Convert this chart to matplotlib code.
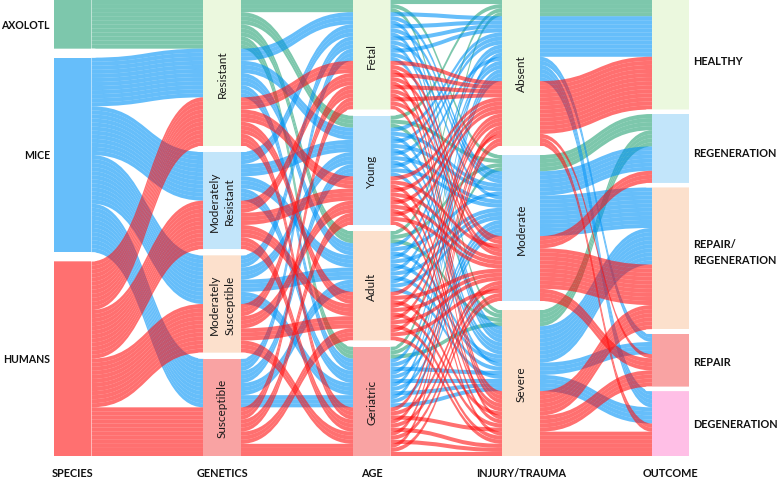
import numpy as np
import matplotlib.pyplot as plt
from matplotlib.path import Path
from matplotlib.patches import PathPatch, Rectangle, FancyBboxPatch

plt.rcParams['font.family'] = ['Lato', 'DejaVu Sans']

# ---- data ----
species = ["AXOLOTL", "MICE", "HUMANS"]
genetics = ["Resistant", "Moderately\nResistant", "Moderately\nSusceptible", "Susceptible"]
ages = ["Fetal", "Young", "Adult", "Geriatric"]
injuries = ["Absent", "Moderate", "Severe"]
outcomes = ["HEALTHY", "REGENERATION", "REPAIR/\nREGENERATION", "REPAIR", "DEGENERATION"]
axis_titles = ["SPECIES", "GENETICS", "AGE", "INJURY/TRAUMA", "OUTCOME"]

# genetic backgrounds present for each species
axolotl_genetics = [0]
mice_genetics = [0, 1, 2, 3]
humans_genetics = [0, 1, 2, 3]

# outcome per injury -> genetics -> age  (0 healthy, 1 regen, 2 repair/regen, 3 repair, 4 degen)
axolotl_out = [
    [[0, 0, 0, 0]],
    [[1, 1, 1, 1]],
    [[1, 1, 1, 1]],
]
mice_out = [
    [[0, 0, 0, 0], [0, 0, 0, 4], [0, 0, 3, 4], [0, 3, 4, 4]],
    [[1, 1, 1, 2], [1, 1, 2, 2], [1, 2, 2, 2], [2, 2, 2, 2]],
    [[2, 2, 2, 3], [2, 2, 2, 4], [2, 2, 3, 4], [2, 3, 4, 4]],
]
humans_out = [
    [[0, 0, 0, 0], [0, 0, 0, 0], [0, 0, 0, 4], [0, 0, 3, 4]],
    [[1, 1, 2, 2], [1, 2, 2, 2], [2, 2, 2, 3], [2, 2, 3, 3]],
    [[2, 2, 2, 3], [2, 2, 3, 4], [2, 3, 4, 4], [3, 4, 4, 4]],
]

# ---- styling ----
species_colors = ["#26a375", "#0093f7", "#ff1111"]
flow_alpha = 0.6
lgreen, lblue, peach, salmon, pink = "#ebf8de", "#c2e5fa", "#fce0cc", "#f9a3a3", "#ffbfe6"
strata_fills = [None,
                [lgreen, lblue, peach, salmon],
                [lgreen, lblue, peach, salmon],
                [lgreen, lblue, peach],
                [lgreen, lblue, peach, salmon, pink]]
# small nudges of the outcome labels relative to their box centres
outcome_label_shift = [6, 4, -7, 1, 0]

top, bottom, total_gap = 1.0, 457.0, 18.0
x_first, x_step, col_w = 54.0, 149.5, 37.5

# build one strand per case
strands = []
for s, (gl, tab) in enumerate(zip([axolotl_genetics, mice_genetics, humans_genetics],
                                  [axolotl_out, mice_out, humans_out])):
    for i in range(len(injuries)):
        for gi, g in enumerate(gl):
            for a in range(len(ages)):
                strands.append((s, g, a, i, tab[i][gi][a]))

levels = [species, genetics, ages, injuries, outcomes]
sort_keys = [(0, 1, 2, 3, 4), (1, 0, 2, 3, 4), (2, 0, 1, 3, 4), (3, 0, 4, 2, 1), (4, 0, 3, 2, 1)]
n = len(strands)
unit = (bottom - top - total_gap) / n

ypos = np.zeros((n, 5))
spans = []
for k in range(5):
    nlev = len(levels[k])
    gap = total_gap / (nlev - 1)
    counts = np.array([sum(1 for st in strands if st[k] == j) for j in range(nlev)])
    tops = top + np.concatenate([[0], np.cumsum(counts)[:-1]]) * unit + np.arange(nlev) * gap
    order = sorted(range(n), key=lambda m: tuple(strands[m][c] for c in sort_keys[k]))
    filled = np.zeros(nlev)
    for m in order:
        j = strands[m][k]
        ypos[m, k] = tops[j] + filled[j] * unit
        filled[j] += 1
    spans.append((tops, counts * unit, gap))

fig = plt.figure(figsize=(7.78, 4.81), dpi=100)
ax = fig.add_axes([0, 0, 1, 1])
ax.set_xlim(0, 778)
ax.set_ylim(481, 0)
ax.axis('off')

# flows
for m, st in enumerate(strands):
    col = species_colors[st[0]]
    for k in range(4):
        xa = x_first + k * x_step + col_w
        xb = x_first + (k + 1) * x_step
        xm = (xa + xb) / 2
        ya, yb = ypos[m, k], ypos[m, k + 1]
        verts = [(xa, ya), (xm, ya), (xm, yb), (xb, yb),
                 (xb, yb + unit), (xm, yb + unit), (xm, ya + unit), (xa, ya + unit), (xa, ya)]
        codes = [Path.MOVETO, Path.CURVE4, Path.CURVE4, Path.CURVE4,
                 Path.LINETO, Path.CURVE4, Path.CURVE4, Path.CURVE4, Path.CLOSEPOLY]
        ax.add_patch(PathPatch(Path(verts, codes), facecolor=col, edgecolor='none',
                               alpha=flow_alpha, lw=0))

# strata
for k in range(5):
    tops, heights, gap = spans[k]
    xl = x_first + k * x_step
    for j in range(len(levels[k])):
        if k == 0:
            ax.add_patch(Rectangle((xl, tops[j]), col_w, heights[j],
                                   facecolor=species_colors[j], alpha=flow_alpha, lw=0))
        else:
            ax.add_patch(Rectangle((xl, tops[j]), col_w, heights[j],
                                   facecolor=strata_fills[k][j], lw=0))
        if j > 0:
            gy = tops[j] - gap
            ax.add_patch(FancyBboxPatch((xl - 7, gy), col_w + 14, gap,
                                        boxstyle="round,pad=0,rounding_size=%.1f" % (gap / 2),
                                        facecolor='white', edgecolor='none', zorder=3))
        if k in (1, 2, 3):
            ax.text(xl + col_w / 2, tops[j] + heights[j] / 2, levels[k][j], rotation=90,
                    ha='center', va='center', multialignment='center', fontsize=8.5,
                    linespacing=1.45, color='#1a1a1a', zorder=4)
    ax.text(xl + col_w / 2, 474, axis_titles[k], ha='center', va='center',
            fontsize=7.8, fontweight='bold', color='#111111')

# side labels
tops, heights, _ = spans[0]
for j, name in enumerate(species):
    ax.text(50, tops[j] + heights[j] / 2, name, ha='right', va='center',
            fontsize=7.6, fontweight='bold', color='#111111')
tops, heights, _ = spans[4]
for j, name in enumerate(outcomes):
    ax.text(693, tops[j] + heights[j] / 2 + outcome_label_shift[j], name, ha='left',
            va='center', fontsize=7.8, fontweight='bold', color='#111111', linespacing=1.5)

fig.savefig("out.png", dpi=100)
